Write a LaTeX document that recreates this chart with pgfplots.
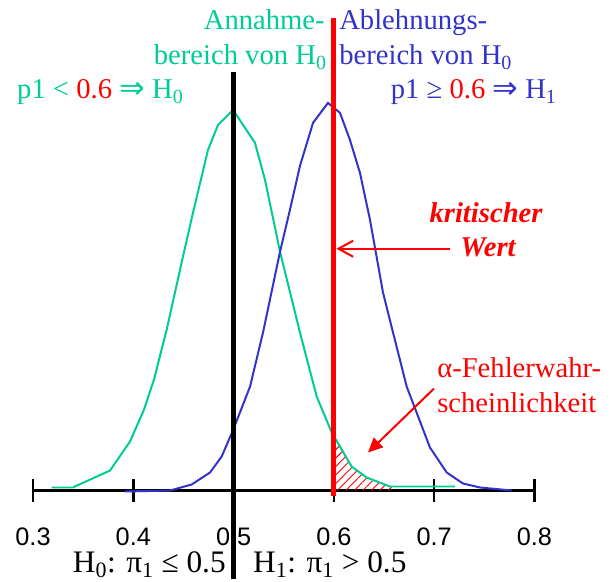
\documentclass[border=0pt]{standalone}
\usepackage{fontspec}
\setmainfont{Liberation Serif}
\setsansfont{Liberation Sans}
\newfontfamily\symfont{DejaVu Sans}
\usepackage{pgfplots}
\pgfplotsset{compat=1.18}
\usetikzlibrary{arrows.meta,patterns.meta}
\definecolor{grn}{RGB}{0,204,150}
\definecolor{blu}{RGB}{51,51,204}
\newcommand\tf{\fontsize{21.5}{26}\selectfont}
\newcommand\impl{{\symfont\fontsize{23}{26}\selectfont ⇒}}

\begin{document}
\begin{tikzpicture}
\begin{axis}[
  scale only axis, width=376.5pt, height=435pt,
  xmin=0.3, xmax=0.8, ymin=-89, ymax=491,
  axis x line*=middle, axis y line=none,
  clip=false,
  xtick={0.3,0.4,0.5,0.6,0.7,0.8},
  xticklabels={0.3,0.4,0.5,0.6,0.7,0.8},
  ytick=\empty,
  tick align=center, major tick length=17pt,
  axis line style={line width=1.9pt},
  tick style={black, line width=1.9pt},
  xticklabel style={font=\sffamily\fontsize{19}{20}\selectfont, anchor=base, yshift=-33pt, inner sep=0pt},
]
% alpha area
\addplot[draw=none, pattern={Lines[angle=45,distance=4.5pt,line width=0.7pt]}, pattern color=red]
  coordinates {(0.6,0) (0.6,57) (0.6177,24) (0.6327,13) (0.6559,4) (0.66,2) (0.66,0)};

% H0
\addplot[grn, line width=1.5pt] coordinates {
(0.3186,3) (0.3396,3) (0.3768,20) (0.3967,49) (0.4107,81) (0.4206,111)
(0.4333,161) (0.4495,234) (0.4595,278) (0.4745,341) (0.4845,366) (0.4995,381)
(0.5213,348) (0.5313,311) (0.5463,239) (0.5662,158) (0.5829,94) (0.5978,58)
(0.6177,24) (0.6327,13) (0.6559,4) (0.7208,4)
};

% H1
\addplot[blu, line width=1.5pt] coordinates {
(0.3917,-1) (0.4366,0) (0.4582,6) (0.4765,18) (0.4881,34) (0.4997,61)
(0.5164,104) (0.5293,158) (0.5463,239) (0.5562,281) (0.5662,325) (0.5792,368)
(0.5941,388) (0.6061,378) (0.6160,351) (0.6260,318) (0.6360,271) (0.6490,198)
(0.6590,158) (0.6726,104) (0.6958,43) (0.7125,18) (0.7287,7) (0.7457,3) (0.7773,0)
};

\addplot[black, line width=3.8pt] coordinates {(0.5,-89) (0.5,419)};
\addplot[red, line width=3.8pt] coordinates {(0.6,-6) (0.6,473)};

\node[grn, anchor=base east, inner sep=0pt, font=\tf] at (axis cs:0.5911,461) {Annahme-};
\node[grn, anchor=base east, inner sep=0pt, font=\tf] at (axis cs:0.5931,426) {bereich von H\textsubscript{0}};
\node[blu, anchor=base west, inner sep=0pt, font=\tf] at (axis cs:0.6051,461) {Ablehnungs-};
\node[blu, anchor=base west, inner sep=0pt, font=\tf] at (axis cs:0.6051,426) {bereich von H\textsubscript{0}};
\node[grn, anchor=base west, inner sep=0pt, font=\tf] at (axis cs:0.284,392) {p1 < \textcolor{red}{0.6} \impl{} H\textsubscript{0}};
\node[blu, anchor=base east, inner sep=0pt, font=\tf] at (axis cs:0.8224,392) {p1 ≥ \textcolor{red}{0.6} \impl{} H\textsubscript{1}};

\node[red, anchor=base, inner sep=0pt, font=\tf\bfseries\itshape] at (axis cs:0.7517,268) {kritischer};
\node[red, anchor=base, inner sep=0pt, font=\tf\bfseries\itshape] at (axis cs:0.7537,234) {Wert};
\draw[red, line width=1.5pt, -{Straight Barb[length=11pt,width=12pt]}] (axis cs:0.7157,242) -- (axis cs:0.6025,242);

\node[red, anchor=base west, inner sep=0pt, font=\tf] at (axis cs:0.7028,113) {α-Fehlerwahr-};
\node[red, anchor=base west, inner sep=0pt, font=\tf] at (axis cs:0.7028,78) {scheinlichkeit};
\draw[red, line width=1.5pt, -{Triangle[length=11pt,width=10pt]}] (axis cs:0.6998,102) -- (axis cs:0.634,38);

\node[anchor=base east, inner sep=0pt, font=\fontsize{23.5}{26}\selectfont] at (axis cs:0.4924,-82) {H\textsubscript{0}: π\textsubscript{1} ≤ 0.5};
\node[anchor=base west, inner sep=0pt, font=\fontsize{23.5}{26}\selectfont] at (axis cs:0.5193,-82) {H\textsubscript{1}: π\textsubscript{1} > 0.5};

\path (axis cs:0.2671,-89) rectangle (axis cs:0.8753,491);
\end{axis}
\end{tikzpicture}
\end{document}
